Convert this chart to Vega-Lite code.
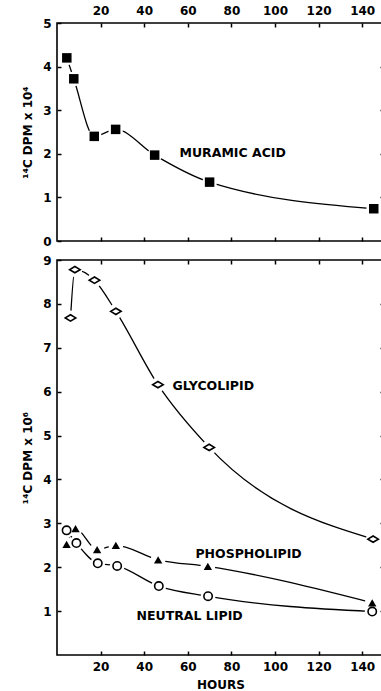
{
  "$schema": "https://vega.github.io/schema/vega-lite/v6.json",
  "padding": {"left": 20, "top": 3, "right": 0, "bottom": 0},
  "background": "white",
  "spacing": 5,
  "config": {
    "view": {"stroke": "black", "strokeWidth": 1.6},
    "axis": {
      "grid": false, "domain": false, "tickColor": "black", "tickSize": -4, "tickWidth": 1.5,
      "labelFont": "DejaVu Sans", "labelFontWeight": "bold", "labelFontSize": 12, "labelColor": "black", "labelPadding": 10,
      "titleFont": "DejaVu Sans", "titleFontWeight": "bold", "titleFontSize": 12, "titleColor": "black"
    },
    "text": {"font": "DejaVu Sans", "fontWeight": "bold", "fontSize": 12.5, "color": "black", "align": "left", "baseline": "middle"}
  },
  "datasets": {
    "muramic": [
      {"series": "Muramic acid", "hours": 4.5, "dpm": 4.2},
      {"series": "Muramic acid", "hours": 7.7, "dpm": 3.72},
      {"series": "Muramic acid", "hours": 17.1, "dpm": 2.40},
      {"series": "Muramic acid", "hours": 26.9, "dpm": 2.56},
      {"series": "Muramic acid", "hours": 44.8, "dpm": 1.97},
      {"series": "Muramic acid", "hours": 70, "dpm": 1.35},
      {"series": "Muramic acid", "hours": 145.3, "dpm": 0.74}
    ],
    "lipids": [
      {"series": "Glycolipid", "hours": 6.2, "dpm": 7.68},
      {"series": "Glycolipid", "hours": 8.2, "dpm": 8.78},
      {"series": "Glycolipid", "hours": 17.2, "dpm": 8.54},
      {"series": "Glycolipid", "hours": 27, "dpm": 7.83},
      {"series": "Glycolipid", "hours": 46.3, "dpm": 6.16},
      {"series": "Glycolipid", "hours": 69.8, "dpm": 4.73},
      {"series": "Glycolipid", "hours": 145, "dpm": 2.64},
      {"series": "Phospholipid", "hours": 4.4, "dpm": 2.52},
      {"series": "Phospholipid", "hours": 8.5, "dpm": 2.88},
      {"series": "Phospholipid", "hours": 18.4, "dpm": 2.40},
      {"series": "Phospholipid", "hours": 27, "dpm": 2.50},
      {"series": "Phospholipid", "hours": 46.4, "dpm": 2.17},
      {"series": "Phospholipid", "hours": 69.2, "dpm": 2.02},
      {"series": "Phospholipid", "hours": 144.6, "dpm": 1.19},
      {"series": "Neutral lipid", "hours": 4.4, "dpm": 2.84},
      {"series": "Neutral lipid", "hours": 8.9, "dpm": 2.55},
      {"series": "Neutral lipid", "hours": 18.7, "dpm": 2.09},
      {"series": "Neutral lipid", "hours": 27.6, "dpm": 2.03},
      {"series": "Neutral lipid", "hours": 46.7, "dpm": 1.57},
      {"series": "Neutral lipid", "hours": 69.3, "dpm": 1.34},
      {"series": "Neutral lipid", "hours": 144.6, "dpm": 0.99}
    ],
    "labels": [
      {"panel": "top", "label": "MURAMIC ACID", "hours": 56.2, "dpm": 2.02},
      {"panel": "bottom", "label": "GLYCOLIPID", "hours": 53, "dpm": 6.14},
      {"panel": "bottom", "label": "PHOSPHOLIPID", "hours": 63.5, "dpm": 2.30},
      {"panel": "bottom", "label": "NEUTRAL LIPID", "hours": 36.5, "dpm": 0.90}
    ]
  },
  "vconcat": [
    {
      "width": 327,
      "height": 218,
      "data": {"name": "muramic"},
      "layer": [
        {
          "mark": {"type": "line", "interpolate": "monotone", "color": "black", "strokeWidth": 1.3},
          "encoding": {
            "x": {"field": "hours", "type": "quantitative", "scale": {"domain": [0, 150], "nice": false},
                  "axis": {"orient": "top", "values": [20, 40, 60, 80, 100, 120, 140], "title": null}},
            "y": {"field": "dpm", "type": "quantitative", "scale": {"domain": [0, 5], "nice": false},
                  "axis": {"orient": "left", "values": [0, 1, 2, 3, 4, 5], "title": "¹⁴C DPM x 10⁴", "titlePadding": 8}}
          }
        },
        {
          "mark": {"type": "point", "shape": "circle", "filled": true, "color": "white", "size": 220, "opacity": 1},
          "encoding": {
            "x": {"field": "hours", "type": "quantitative", "scale": {"domain": [0, 150], "nice": false},
                  "axis": {"orient": "bottom", "values": [20, 40, 60, 80, 100, 120, 140], "labels": false, "title": null}},
            "y": {"field": "dpm", "type": "quantitative", "scale": {"domain": [0, 5], "nice": false},
                  "axis": {"orient": "right", "values": [1, 2, 3, 4], "labels": false, "title": null}}
          }
        },
        {
          "mark": {"type": "square", "color": "black", "size": 90, "opacity": 1},
          "encoding": {
            "x": {"field": "hours", "type": "quantitative", "axis": null},
            "y": {"field": "dpm", "type": "quantitative", "axis": null}
          }
        },
        {
          "data": {"name": "labels"},
          "transform": [{"filter": "datum.panel === 'top'"}],
          "mark": {"type": "text"},
          "encoding": {
            "x": {"field": "hours", "type": "quantitative", "axis": null},
            "y": {"field": "dpm", "type": "quantitative", "axis": null},
            "text": {"field": "label"}
          }
        }
      ],
      "resolve": {"axis": {"x": "independent", "y": "independent"}}
    },
    {
      "width": 327,
      "height": 395,
      "data": {"name": "lipids"},
      "layer": [
        {
          "mark": {"type": "line", "interpolate": "monotone", "color": "black", "strokeWidth": 1.3},
          "encoding": {
            "x": {"field": "hours", "type": "quantitative", "scale": {"domain": [0, 150], "nice": false},
                  "axis": {"orient": "bottom", "values": [20, 40, 60, 80, 100, 120, 140], "title": "HOURS", "titlePadding": 7}},
            "y": {"field": "dpm", "type": "quantitative", "scale": {"domain": [0, 9], "nice": false},
                  "axis": {"orient": "left", "values": [1, 2, 3, 4, 5, 6, 7, 8, 9], "title": "¹⁴C DPM x 10⁶", "titlePadding": 8}},
            "detail": {"field": "series"}
          }
        },
        {
          "mark": {"type": "point", "shape": "circle", "filled": true, "color": "white", "size": 220, "opacity": 1},
          "encoding": {
            "x": {"field": "hours", "type": "quantitative", "scale": {"domain": [0, 150], "nice": false},
                  "axis": {"orient": "top", "values": [20, 40, 60, 80, 100, 120, 140], "labels": false, "title": null}},
            "y": {"field": "dpm", "type": "quantitative", "scale": {"domain": [0, 9], "nice": false},
                  "axis": {"orient": "right", "values": [1, 2, 3, 4, 5, 6, 7, 8], "labels": false, "title": null}}
          }
        },
        {
          "transform": [{"filter": "datum.series === 'Glycolipid'"}],
          "mark": {"type": "point", "shape": "M-1,0L0,-0.6L1,0L0,0.6Z", "filled": true, "fill": "white", "stroke": "black", "strokeWidth": 1.6, "size": 110, "opacity": 1},
          "encoding": {
            "x": {"field": "hours", "type": "quantitative", "axis": null},
            "y": {"field": "dpm", "type": "quantitative", "axis": null}
          }
        },
        {
          "transform": [{"filter": "datum.series === 'Phospholipid'"}],
          "mark": {"type": "point", "shape": "triangle-up", "filled": true, "color": "black", "size": 70, "opacity": 1},
          "encoding": {
            "x": {"field": "hours", "type": "quantitative", "axis": null},
            "y": {"field": "dpm", "type": "quantitative", "axis": null}
          }
        },
        {
          "transform": [{"filter": "datum.series === 'Neutral lipid'"}],
          "mark": {"type": "point", "shape": "circle", "filled": true, "fill": "white", "stroke": "black", "strokeWidth": 1.6, "size": 70, "opacity": 1},
          "encoding": {
            "x": {"field": "hours", "type": "quantitative", "axis": null},
            "y": {"field": "dpm", "type": "quantitative", "axis": null}
          }
        },
        {
          "data": {"name": "labels"},
          "transform": [{"filter": "datum.panel === 'bottom'"}],
          "mark": {"type": "text"},
          "encoding": {
            "x": {"field": "hours", "type": "quantitative", "axis": null},
            "y": {"field": "dpm", "type": "quantitative", "axis": null},
            "text": {"field": "label"}
          }
        }
      ],
      "resolve": {"axis": {"x": "independent", "y": "independent"}}
    }
  ]
}
